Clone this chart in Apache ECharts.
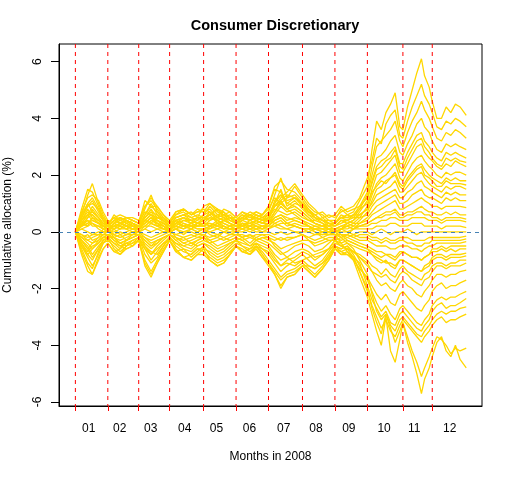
<!DOCTYPE html>
<html>
<head>
<meta charset="utf-8">
<script src="https://cdn.jsdelivr.net/npm/echarts@6/dist/echarts.min.js"></script>
<style>
  html, body { margin: 0; padding: 0; background: #fff; }
  #main { width: 512px; height: 480px; }
</style>
</head>
<body>
<div id="main"></div>
<script>
// trading-day index of each sample point (0 = first trading day of 2008)
var days = [0, 4, 8, 11, 15, 18,
  21, 25, 29, 33, 37,
  41, 45, 49, 53, 57,
  61, 65, 70, 75, 79,
  83, 87, 92, 96, 100,
  104, 108, 113, 117, 121,
  125, 129, 133, 137, 142,
  147, 151, 155, 160, 164,
  168, 172, 176, 180, 184,
  189, 192, 195, 198, 201, 204, 207, 210,
  212, 215, 218, 221, 224, 226, 229,
  231, 234, 237, 240, 243, 246, 249, 253];

// first trading day of each month (red dashed lines)
var monthStarts = [0, 21, 41, 61, 83, 104, 125, 147, 168, 189, 212, 231];
// position of the month labels
var monthLabelPos = [8.6, 28.7, 48.8, 70.8, 91.3, 112.7, 134.9, 155.7, 177.0, 199.8, 219.3, 242.3];
var monthLabels = ['01', '02', '03', '04', '05', '06', '07', '08', '09', '10', '11', '12'];
var yTicks = [-6, -4, -2, 0, 2, 4, 6];
var yMin = -6.14, yMax = 6.62;

// cumulative allocation (%) per stock, one value per sample day
var s01 = [0, 0.6, 1.3, 1.7, 1.0, 0.6,
  0.3, 0.5, 0.3, 0.4, 0.2,
  0.2, 0.8, 1.3, 0.7, 0.4,
  0.2, 0.5, 0.6, 0.4, 0.5,
  0.9, 1.0, 0.7, 0.6, 0.4,
  0.3, 0.5, 0.4, 0.6, 0.5,
  0.7, 1.3, 1.9, 1.2, 1.6,
  1.2, 0.9, 0.7, 0.6, 0.4,
  0.4, 0.8, 0.6, 0.7, 1.1,
  1.6, 2.9, 3.9, 3.6, 4.2, 4.5, 4.9, 3.7,
  3.6, 4.4, 5.0, 5.6, 6.1, 5.5, 5.1,
  4.6, 4.0, 4.0, 4.4, 4.2, 4.5, 4.4, 4.1];
var s02 = [0, -0.3, -0.6, -0.4, -0.2, 0.1,
  0, 0.3, 0.2, 0.1, 0.3,
  0.1, 0.4, 0.6, 0.3, 0.2,
  0, 0.3, 0.2, 0.1, 0.3,
  0.5, 0.6, 0.8, 0.5, 0.3,
  0.2, 0.4, 0.6, 0.4, 0.3,
  0.5, 0.9, 1.2, 1.4, 1.7,
  1.3, 1.0, 0.8, 0.5, 0.6,
  0.5, 0.7, 0.8, 0.9, 1.2,
  1.9, 2.5, 3.3, 3.1, 3.8, 4.1, 4.3, 3.4,
  3.3, 3.9, 4.4, 4.8, 5.2, 4.8, 4.5,
  4.2, 3.7, 3.6, 3.9, 3.8, 4.0, 3.9, 3.7];
var s03 = [0, 0.5, 0.9, 1.1, 0.7, 0.4,
  0.2, 0.6, 0.4, 0.5, 0.4,
  0.3, 1.1, 0.9, 0.9, 0.6,
  0.3, 0.7, 0.8, 0.6, 0.7,
  0.7, 0.8, 0.5, 0.8, 0.7,
  0.5, 0.7, 0.5, 0.7, 0.6,
  0.9, 1.5, 1.4, 1.0, 1.2,
  1.0, 0.8, 0.6, 0.7, 0.5,
  0.6, 0.9, 0.7, 0.8, 0.9,
  1.4, 2.3, 3.0, 3.2, 3.4, 3.6, 3.9, 3.2,
  3.0, 3.5, 3.9, 4.2, 4.6, 4.3, 4.0,
  3.7, 3.3, 3.2, 3.5, 3.4, 3.6, 3.5, 3.3];
var s04 = [0, 0.2, 0.5, 0.8, 0.5, 0.3,
  0.1, -0.2, -0.4, -0.3, -0.1,
  0, -0.5, -0.8, -0.5, -0.3,
  -0.1, 0.2, 0.4, 0.3, 0.2,
  0.3, 0.5, 0.4, 0.2, 0.1,
  0.1, 0.3, 0.2, 0.4, 0.3,
  0.4, 1.0, 1.5, 0.9, 1.1,
  0.8, 0.6, 0.5, 0.4, 0.3,
  0.3, 0.5, 0.6, 0.5, 0.8,
  1.3, 2.0, 2.6, 2.7, 2.9, 3.2, 3.4, 2.8,
  2.7, 3.1, 3.4, 3.8, 4.0, 3.7, 3.5,
  3.2, 2.9, 2.8, 3.1, 3.0, 3.1, 3.0, 2.9];
var s05 = [0, 0.4, 0.7, 0.6, 0.4, 0.2,
  0.1, 0.2, 0.1, 0.3, 0.2,
  0.1, 0.6, 1.0, 0.6, 0.3,
  0.1, 0.4, 0.5, 0.3, 0.4,
  0.6, 0.7, 0.4, 0.3, 0.2,
  0.2, 0.3, 0.1, 0.2, 0.1,
  0.3, 0.7, 1.1, 0.8, 0.9,
  0.7, 0.5, 0.3, 0.2, 0.3,
  0.2, 0.4, 0.3, 0.4, 0.7,
  1.1, 1.8, 2.3, 2.5, 2.6, 2.8, 3.0, 2.4,
  2.4, 2.8, 3.1, 3.4, 3.5, 3.2, 3.0,
  2.8, 2.6, 2.5, 2.8, 2.7, 2.8, 2.7, 2.6];
var s06 = [0, -0.4, -0.8, -1.0, -0.6, -0.3,
  -0.2, 0.1, 0.3, 0.2, 0.1,
  0.1, 0.3, 0.5, 0.4, 0.2,
  0.1, -0.2, -0.4, -0.5, -0.3,
  -0.2, 0.2, 0.3, 0.1, 0.2,
  0.1, 0.2, 0.3, 0.2, 0.2,
  0.3, 0.6, 0.9, 0.7, 0.8,
  0.6, 0.4, 0.3, 0.2, 0.2,
  0.2, 0.3, 0.4, 0.3, 0.5,
  0.9, 1.5, 2.0, 2.1, 2.3, 2.5, 2.7, 2.1,
  2.1, 2.4, 2.7, 3.0, 3.1, 2.8, 2.6,
  2.5, 2.3, 2.2, 2.4, 2.3, 2.5, 2.4, 2.3];
var s07 = [0, 0.3, 0.6, 0.9, 0.6, 0.4,
  0.2, 0.4, 0.5, 0.3, 0.4,
  0.3, 0.7, 0.6, 0.5, 0.5,
  0.2, 0.5, 0.6, 0.5, 0.6,
  0.5, 0.4, 0.6, 0.7, 0.5,
  0.4, 0.6, 0.4, 0.5, 0.4,
  0.5, 0.8, 0.7, 0.6, 0.7,
  0.5, 0.4, 0.4, 0.3, 0.2,
  0.3, 0.5, 0.5, 0.6, 0.6,
  0.8, 1.3, 1.7, 1.9, 2.0, 2.2, 2.4, 1.9,
  1.8, 2.1, 2.4, 2.6, 2.7, 2.5, 2.3,
  2.2, 2.0, 1.9, 2.1, 2.0, 2.1, 2.1, 2.0];
var s08 = [0, 0.7, 1.2, 1.3, 1.1, 0.7,
  0.4, 0.3, 0.2, 0.1, 0.2,
  0.2, 0.5, 0.8, 0.5, 0.4,
  0.2, 0.3, 0.2, 0.1, 0.2,
  0.3, 0.3, 0.2, 0.4, 0.3,
  0.2, 0.1, 0.2, 0.3, 0.2,
  0.2, 0.5, 0.6, 0.4, 0.5,
  0.4, 0.3, 0.2, 0.2, 0.1,
  0.1, 0.2, 0.3, 0.2, 0.4,
  0.7, 1.1, 1.5, 1.6, 1.8, 1.9, 2.1, 1.7,
  1.6, 1.9, 2.1, 2.3, 2.4, 2.2, 2.0,
  1.9, 1.8, 1.7, 1.9, 1.8, 1.9, 1.8, 1.8];
var s09 = [0, -0.2, -0.4, -0.6, -0.4, -0.2,
  -0.1, -0.3, -0.5, -0.4, -0.3,
  -0.2, -0.6, -1.0, -0.7, -0.4,
  -0.2, -0.4, -0.6, -0.7, -0.5,
  -0.4, -0.5, -0.7, -0.6, -0.4,
  -0.3, -0.2, -0.4, -0.2, -0.3,
  -0.4, -0.6, -0.8, -0.7, -0.5,
  -0.4, -0.5, -0.7, -0.6, -0.4,
  -0.2, 0.1, 0.3, 0.4, 0.6,
  0.8, 1.0, 1.3, 1.4, 1.5, 1.6, 1.8, 1.4,
  1.4, 1.6, 1.8, 2.0, 2.1, 1.9, 1.7,
  1.6, 1.5, 1.4, 1.6, 1.5, 1.6, 1.6, 1.5];
var s10 = [0, 0.2, 0.3, 0.4, 0.3, 0.1,
  0.1, 0.2, 0.3, 0.2, 0.1,
  0.1, 0.4, 0.3, 0.2, 0.1,
  0.1, 0.3, 0.4, 0.4, 0.3,
  0.2, 0.4, 0.5, 0.4, 0.3,
  0.2, 0.3, 0.3, 0.4, 0.5,
  0.6, 0.9, 1.0, 1.2, 1.3,
  1.0, 0.7, 0.5, 0.4, 0.3,
  0.2, 0.4, 0.4, 0.5, 0.5,
  0.6, 0.9, 1.1, 1.2, 1.3, 1.4, 1.5, 1.2,
  1.2, 1.4, 1.5, 1.7, 1.8, 1.6, 1.5,
  1.4, 1.3, 1.2, 1.4, 1.3, 1.4, 1.3, 1.3];
var s11 = [0, 0.4, 0.8, 0.5, 0.3, 0.2,
  0.1, -0.1, -0.2, -0.1, 0,
  0, 0.2, 0.4, 0.3, 0.1,
  0, 0.1, 0.2, 0.2, 0.1,
  0.1, 0.2, 0.1, 0.2, 0.1,
  0.1, 0.2, 0.1, 0.1, 0.2,
  0.2, 0.4, 0.5, 0.3, 0.4,
  0.3, 0.2, 0.1, 0.1, 0.1,
  0.1, 0.2, 0.2, 0.3, 0.3,
  0.5, 0.7, 0.9, 1.0, 1.1, 1.2, 1.3, 1.0,
  1.0, 1.1, 1.3, 1.4, 1.5, 1.3, 1.2,
  1.2, 1.1, 1.0, 1.2, 1.1, 1.2, 1.1, 1.1];
var s12 = [0, -0.5, -0.9, -1.2, -0.8, -0.4,
  -0.2, -0.4, -0.6, -0.3, -0.2,
  -0.1, -0.3, -0.5, -0.4, -0.2,
  -0.1, -0.3, -0.2, -0.4, -0.3,
  -0.2, -0.3, -0.5, -0.4, -0.3,
  -0.2, -0.3, -0.5, -0.3, -0.4,
  -0.5, -0.8, -1.0, -0.9, -0.7,
  -0.6, -0.7, -0.9, -0.8, -0.6,
  -0.3, -0.2, -0.1, 0.1, 0.3,
  0.4, 0.6, 0.7, 0.8, 0.9, 1.0, 1.1, 0.8,
  0.8, 0.9, 1.0, 1.1, 1.2, 1.1, 1.0,
  0.9, 0.9, 0.8, 0.9, 0.9, 0.9, 0.9, 0.85];
var s13 = [0, 0.3, 0.4, 0.2, 0.2, 0.1,
  0, 0.1, 0.2, 0.1, 0.2,
  0.1, 0.2, 0.2, 0.1, 0.1,
  0.1, 0.2, 0.1, 0.2, 0.1,
  0.1, 0.1, 0.2, 0.1, 0.1,
  0.1, 0.1, 0.2, 0.1, 0.1,
  0.1, 0.3, 0.4, 0.2, 0.3,
  0.2, 0.2, 0.1, 0.1, 0,
  0, 0.1, 0.1, 0.2, 0.2,
  0.3, 0.4, 0.5, 0.6, 0.7, 0.7, 0.8, 0.6,
  0.6, 0.7, 0.7, 0.8, 0.9, 0.8, 0.7,
  0.7, 0.6, 0.6, 0.7, 0.6, 0.7, 0.6, 0.6];
var s14 = [0, 0.1, 0.2, 0.3, 0.1, 0,
  0, 0.2, 0.3, 0.2, 0.1,
  0, 0.1, 0.3, 0.2, 0.1,
  0, 0.1, 0.3, 0.2, 0.2,
  0.2, 0.1, 0.3, 0.2, 0.1,
  0.1, 0.3, 0.2, 0.2, 0.1,
  0.2, 0.2, 0.3, 0.3, 0.2,
  0.1, 0.1, 0.2, 0.1, 0.1,
  0.1, 0.1, 0.2, 0.1, 0.2,
  0.2, 0.3, 0.3, 0.4, 0.4, 0.5, 0.5, 0.4,
  0.4, 0.4, 0.5, 0.5, 0.5, 0.5, 0.4,
  0.4, 0.4, 0.3, 0.4, 0.4, 0.4, 0.4, 0.35];
var s15 = [0, -0.1, -0.2, -0.1, -0.1, 0,
  0, 0, 0.1, 0.1, 0,
  0, -0.1, -0.2, -0.1, 0,
  0, 0.1, 0, 0.1, 0,
  0.1, 0, 0.1, 0, 0.1,
  0, 0.1, 0, 0.1, 0,
  0.1, 0.2, 0.1, 0.1, 0.2,
  0.1, 0, 0.1, 0, 0.1,
  0, 0.1, 0, 0.1, 0.1,
  0.1, 0.1, 0.2, 0.2, 0.2, 0.3, 0.3, 0.2,
  0.2, 0.2, 0.3, 0.3, 0.3, 0.2, 0.2,
  0.2, 0.2, 0.1, 0.2, 0.2, 0.2, 0.2, 0.15];
var s16 = [0, 0.1, 0, -0.1, 0, 0,
  0, -0.1, 0, -0.1, 0,
  0, 0.1, 0, 0.1, 0,
  0, -0.1, 0, 0, -0.1,
  0, 0, -0.1, 0, 0,
  0, 0, 0.1, 0, 0,
  0, -0.1, 0, -0.1, 0,
  0, 0, -0.1, 0, 0,
  0, 0, 0, -0.1, 0,
  0, -0.1, 0, 0.1, 0, -0.1, 0, 0,
  0, 0.1, 0, -0.1, 0, 0, 0,
  0, 0, 0, 0, 0, 0, 0, 0];
var s17 = [0, -0.2, -0.3, -0.2, -0.1, -0.1,
  0, -0.1, -0.2, -0.1, -0.1,
  0, -0.2, -0.3, -0.2, -0.1,
  0, -0.1, -0.2, -0.1, -0.2,
  -0.1, -0.2, -0.1, -0.2, -0.1,
  -0.1, -0.1, -0.2, -0.1, -0.1,
  -0.1, -0.2, -0.3, -0.2, -0.2,
  -0.1, -0.2, -0.1, -0.1, -0.1,
  -0.1, -0.1, -0.1, -0.2, -0.1,
  -0.1, -0.2, -0.2, -0.3, -0.2, -0.3, -0.3, -0.2,
  -0.2, -0.2, -0.3, -0.3, -0.3, -0.3, -0.2,
  -0.2, -0.2, -0.2, -0.2, -0.2, -0.2, -0.2, -0.15];
var s18 = [0, 0.2, 0.5, 0.6, 0.4, 0.2,
  0.1, 0.3, 0.4, 0.3, 0.2,
  0.1, 0.4, 0.6, 0.4, 0.3,
  0.1, 0.3, 0.5, 0.4, 0.3,
  0.4, 0.5, 0.4, 0.5, 0.4,
  0.3, 0.4, 0.3, 0.4, 0.3,
  0.3, 0.5, 0.6, 0.5, 0.4,
  0.3, 0.2, 0.1, 0, -0.1,
  -0.1, -0.2, -0.1, -0.2, -0.3,
  -0.3, -0.4, -0.5, -0.5, -0.5, -0.6, -0.6, -0.5,
  -0.5, -0.5, -0.6, -0.6, -0.7, -0.6, -0.5,
  -0.5, -0.4, -0.4, -0.4, -0.4, -0.4, -0.4, -0.35];
var s19 = [0, -0.4, -0.7, -0.5, -0.4, -0.2,
  -0.1, -0.2, -0.3, -0.2, -0.1,
  -0.1, -0.4, -0.6, -0.4, -0.2,
  -0.1, -0.2, -0.4, -0.3, -0.2,
  -0.2, -0.4, -0.3, -0.2, -0.3,
  -0.2, -0.3, -0.2, -0.3, -0.2,
  -0.3, -0.4, -0.6, -0.5, -0.4,
  -0.3, -0.3, -0.4, -0.3, -0.2,
  -0.2, -0.3, -0.2, -0.3, -0.4,
  -0.5, -0.6, -0.7, -0.7, -0.8, -0.8, -0.9, -0.7,
  -0.7, -0.8, -0.9, -0.9, -1.0, -0.9, -0.8,
  -0.7, -0.7, -0.6, -0.7, -0.6, -0.7, -0.6, -0.6];
var s20 = [0, 0.5, 0.9, 1.0, 0.8, 0.5,
  0.3, 0.5, 0.4, 0.5, 0.4,
  0.3, 0.9, 1.1, 0.8, 0.5,
  0.3, 0.6, 0.7, 0.5, 0.4,
  0.6, 0.9, 0.6, 0.5, 0.6,
  0.4, 0.6, 0.5, 0.5, 0.4,
  0.5, 1.1, 1.3, 1.0, 0.9,
  0.7, 0.5, 0.3, 0.2, 0.1,
  0, -0.2, -0.4, -0.5, -0.6,
  -0.7, -0.8, -0.9, -1.0, -1.1, -1.1, -1.2, -1.0,
  -1.0, -1.1, -1.2, -1.3, -1.4, -1.3, -1.2,
  -1.0, -0.9, -0.9, -1.0, -0.9, -0.9, -0.9, -0.85];
var s21 = [0, -0.6, -1.1, -1.3, -0.7, -0.4,
  -0.3, -0.5, -0.7, -0.5, -0.4,
  -0.2, -0.8, -1.1, -0.9, -0.5,
  -0.2, -0.5, -0.7, -0.8, -0.6,
  -0.6, -0.7, -0.9, -0.8, -0.6,
  -0.4, -0.5, -0.6, -0.4, -0.6,
  -0.8, -1.1, -1.4, -1.2, -1.0,
  -0.8, -1.0, -1.2, -1.0, -0.7,
  -0.4, -0.5, -0.6, -0.7, -0.9,
  -1.2, -1.4, -1.5, -1.6, -1.5, -1.7, -1.8, -1.5,
  -1.4, -1.5, -1.7, -1.8, -1.9, -1.7, -1.6,
  -1.4, -1.2, -1.2, -1.3, -1.2, -1.2, -1.2, -1.1];
var s22 = [0, 0.2, 0.3, 0.5, 0.3, 0.2,
  0.2, 0.4, 0.3, 0.4, 0.3,
  0.2, 0.5, 0.7, 0.6, 0.4,
  0.2, 0.4, 0.3, 0.2, 0.3,
  0.3, 0.2, 0.4, 0.3, 0.2,
  0.3, 0.5, 0.4, 0.6, 0.5,
  0.4, 0.3, 0.2, 0.1, 0,
  -0.1, -0.3, -0.5, -0.4, -0.3,
  -0.3, -0.5, -0.6, -0.7, -0.9,
  -1.1, -1.4, -1.7, -1.9, -1.8, -2.0, -2.1, -1.8,
  -1.7, -1.9, -2.0, -2.2, -2.3, -2.1, -1.9,
  -1.7, -1.5, -1.5, -1.6, -1.5, -1.5, -1.4, -1.35];
var s23 = [0, -0.3, -0.5, -0.8, -0.5, -0.3,
  -0.2, -0.4, -0.5, -0.6, -0.5,
  -0.3, -0.6, -0.8, -0.6, -0.4,
  -0.3, -0.6, -0.9, -1.0, -0.8,
  -0.8, -1.0, -1.2, -1.1, -0.8,
  -0.5, -0.7, -0.8, -0.6, -0.9,
  -1.1, -1.5, -2.0, -1.6, -1.5,
  -1.2, -1.4, -1.6, -1.3, -1.0,
  -0.6, -0.8, -0.7, -1.0, -1.3,
  -1.6, -1.9, -2.2, -2.4, -2.2, -2.5, -2.6, -2.2,
  -2.1, -2.3, -2.5, -2.7, -2.8, -2.6, -2.4,
  -2.1, -1.9, -1.8, -2.0, -1.9, -1.9, -1.8, -1.7];
var s24 = [0, 0.8, 1.5, 1.4, 0.9, 0.5,
  0.2, 0.1, -0.1, 0, 0.1,
  0.1, 0.3, 0.5, 0.3, 0.2,
  0, 0.1, -0.1, 0.1, 0,
  0.1, -0.1, -0.2, 0, -0.1,
  0, -0.2, -0.1, -0.3, -0.2,
  -0.2, -0.5, -0.7, -0.9, -1.1,
  -1.0, -0.9, -0.8, -0.7, -0.6,
  -0.5, -0.6, -0.5, -0.8, -1.2,
  -1.7, -2.1, -2.5, -2.8, -2.6, -2.9, -3.1, -2.7,
  -2.6, -2.8, -3.0, -3.2, -3.3, -3.1, -2.9,
  -2.6, -2.4, -2.3, -2.4, -2.3, -2.3, -2.2, -2.1];
var s25 = [0, -0.5, -0.8, -0.6, -0.3, -0.2,
  -0.2, -0.6, -0.8, -0.5, -0.4,
  -0.3, -1.0, -1.4, -1.0, -0.6,
  -0.3, -0.7, -0.6, -0.9, -0.7,
  -0.5, -0.8, -1.0, -0.9, -0.7,
  -0.5, -0.6, -0.8, -0.5, -0.7,
  -1.0, -1.3, -1.6, -1.4, -1.3,
  -1.1, -1.3, -1.5, -1.2, -0.9,
  -0.5, -0.7, -0.6, -0.9, -1.1,
  -1.9, -2.4, -2.7, -3.0, -2.8, -3.2, -3.3, -2.9,
  -2.8, -3.0, -3.2, -3.4, -3.5, -3.3, -3.1,
  -2.8, -2.6, -2.5, -2.7, -2.6, -2.6, -2.5, -2.35];
var s26 = [0, 0.3, 0.6, 0.7, 0.5, 0.3,
  0.2, 0.4, 0.5, 0.4, 0.3,
  0.2, 0.6, 0.9, 0.7, 0.5,
  0.3, 0.6, 0.8, 0.6, 0.7,
  0.8, 0.7, 0.5, 0.6, 0.7,
  0.5, 0.4, 0.6, 0.5, 0.6,
  0.8, 1.2, 1.0, 0.8, 0.6,
  0.4, 0.2, 0, -0.2, -0.3,
  -0.3, -0.5, -0.4, -0.6, -1.0,
  -1.5, -2.2, -2.8, -3.1, -2.9, -3.3, -3.5, -3.1,
  -3.0, -3.2, -3.4, -3.6, -3.7, -3.5, -3.3,
  -3.1, -2.9, -2.8, -2.9, -2.8, -2.8, -2.7, -2.65];
var s27 = [0, -0.7, -1.2, -1.5, -0.9, -0.6,
  -0.4, -0.7, -0.6, -0.4, -0.5,
  -0.3, -1.2, -1.6, -1.1, -0.7,
  -0.3, -0.6, -0.9, -0.8, -0.6,
  -0.7, -0.9, -1.1, -1.0, -0.8,
  -0.5, -0.7, -0.6, -0.5, -0.8,
  -1.1, -1.4, -1.7, -1.5, -1.4,
  -1.2, -1.2, -1.3, -1.1, -0.9,
  -0.6, -0.7, -0.8, -0.9, -1.4,
  -2.1, -2.6, -3.0, -3.4, -3.1, -3.5, -3.7, -3.3,
  -3.1, -3.3, -3.5, -3.7, -3.9, -3.7, -3.5,
  -3.3, -3.1, -3.0, -3.2, -3.1, -3.1, -3.0, -2.9];
var s28 = [0, 0.6, 1.0, 1.2, 0.8, 0.4,
  0.3, 0.5, 0.6, 0.5, 0.5,
  0.4, 0.9, 1.2, 0.9, 0.6,
  0.4, 0.7, 0.8, 0.6, 0.8,
  0.7, 1.0, 0.8, 0.6, 0.5,
  0.5, 0.7, 0.6, 0.7, 0.6,
  0.9, 1.6, 1.8, 1.5, 1.4,
  1.1, 0.8, 0.5, 0.3, 0.1,
  -0.1, -0.4, -0.7, -0.9, -1.4,
  -2.0, -2.7, -3.2, -3.6, -2.9, -3.4, -3.9, -3.5,
  -3.2, -3.7, -4.2, -4.6, -5.1, -4.8, -4.4,
  -4.1, -3.7, -3.8, -4.0, -4.3, -4.1, -4.2, -4.1];
var s29 = [0, -0.8, -1.4, -1.5, -1.0, -0.6,
  -0.4, -0.7, -0.8, -0.6, -0.5,
  -0.3, -1.1, -1.5, -1.1, -0.7,
  -0.3, -0.7, -0.9, -1.0, -0.8,
  -0.6, -1.0, -1.2, -1.1, -0.8,
  -0.5, -0.7, -0.8, -0.6, -0.9,
  -1.2, -1.5, -1.9, -1.6, -1.5,
  -1.2, -1.4, -1.6, -1.3, -1.0,
  -0.6, -0.8, -0.8, -1.0, -1.6,
  -2.3, -2.9, -3.5, -4.0, -3.0, -4.2, -4.6, -3.8,
  -3.2, -3.9, -4.4, -5.0, -5.7, -5.2, -4.8,
  -4.4, -3.9, -3.7, -4.2, -4.4, -4.0, -4.5, -4.8];
var s30 = [0, 0.3, 0.2, 0.5, 0.4, 0.3,
  0.3, 0.1, 0.2, 0.4, 0.3,
  0.2, 0.3, 0.5, 0.2, 0.3,
  0.2, 0.4, 0.2, 0.3, 0.5,
  0.4, 0.6, 0.3, 0.4, 0.5,
  0.3, 0.2, 0.4, 0.3, 0.4,
  0.4, 0.7, 1.0, 0.8, 1.0,
  0.9, 0.6, 0.4, 0.5, 0.3,
  0.3, 0.5, 0.4, 0.6, 0.8,
  1.0, 1.4, 1.6, 1.8, 1.7, 1.9, 2.0, 1.6,
  1.5, 1.8, 2.0, 2.2, 2.3, 2.0, 1.9,
  1.8, 1.6, 1.6, 1.8, 1.7, 1.7, 1.7, 1.65];
var s31 = [0, -0.2, -0.1, -0.3, -0.2, -0.1,
  -0.1, -0.2, -0.1, -0.3, -0.2,
  -0.1, -0.2, -0.4, -0.3, -0.2,
  -0.1, -0.2, -0.3, -0.2, -0.1,
  -0.1, -0.3, -0.2, -0.3, -0.2,
  -0.1, -0.2, -0.1, -0.2, -0.1,
  -0.2, -0.3, -0.2, -0.3, -0.2,
  -0.1, -0.2, -0.3, -0.2, -0.1,
  0, 0.1, 0.2, 0.1, 0.2,
  0.3, 0.4, 0.5, 0.5, 0.6, 0.6, 0.7, 0.5,
  0.5, 0.6, 0.6, 0.7, 0.7, 0.6, 0.6,
  0.5, 0.5, 0.4, 0.5, 0.5, 0.5, 0.5, 0.45];
var s32 = [0, 0.2, 0.4, 0.3, 0.2, 0.1,
  0.1, 0.2, 0.1, 0.2, 0.1,
  0.1, 0.2, 0.4, 0.3, 0.2,
  0.1, 0.2, 0.1, 0.3, 0.2,
  0.2, 0.3, 0.2, 0.1, 0.2,
  0.1, 0.2, 0.1, 0.2, 0.1,
  0.2, 0.4, 0.5, 0.3, 0.2,
  0.1, 0.1, 0, -0.1, 0,
  -0.1, -0.1, -0.2, -0.1, -0.2,
  -0.2, -0.3, -0.3, -0.4, -0.3, -0.4, -0.4, -0.3,
  -0.3, -0.4, -0.4, -0.5, -0.5, -0.4, -0.4,
  -0.3, -0.3, -0.3, -0.3, -0.3, -0.3, -0.3, -0.25];
var s33 = [0, -0.1, -0.3, -0.4, -0.3, -0.1,
  -0.1, -0.3, -0.4, -0.3, -0.2,
  -0.1, -0.3, -0.5, -0.3, -0.2,
  -0.1, -0.3, -0.5, -0.6, -0.4,
  -0.3, -0.4, -0.6, -0.5, -0.4,
  -0.3, -0.4, -0.5, -0.4, -0.5,
  -0.6, -0.9, -1.2, -1.0, -0.9,
  -0.7, -0.8, -1.0, -0.8, -0.6,
  -0.3, -0.4, -0.3, -0.4, -0.5,
  -0.6, -0.7, -0.8, -0.9, -0.8, -0.9, -1.0, -0.8,
  -0.7, -0.8, -0.9, -0.9, -1.0, -0.9, -0.8,
  -0.6, -0.6, -0.5, -0.6, -0.5, -0.5, -0.5, -0.5];
var s34 = [0, 0.4, 0.6, 0.4, 0.3, 0.2,
  0.1, 0.3, 0.5, 0.4, 0.3,
  0.2, 0.4, 0.3, 0.5, 0.4,
  0.2, 0.5, 0.6, 0.7, 0.5,
  0.5, 0.6, 0.8, 0.7, 0.5,
  0.4, 0.5, 0.7, 0.6, 0.5,
  0.6, 0.9, 1.1, 1.3, 1.2,
  1.0, 0.7, 0.6, 0.4, 0.2,
  0.1, -0.1, -0.3, -0.4, -0.5,
  -0.6, -0.8, -1.0, -1.1, -1.0, -1.2, -1.3, -1.0,
  -1.0, -1.1, -1.2, -1.3, -1.4, -1.2, -1.1,
  -0.9, -0.8, -0.8, -0.9, -0.8, -0.8, -0.8, -0.75];
var s35 = [0, -0.3, -0.6, -0.9, -0.6, -0.3,
  -0.2, -0.2, -0.4, -0.5, -0.3,
  -0.2, -0.5, -0.7, -0.8, -0.5,
  -0.2, -0.4, -0.5, -0.4, -0.5,
  -0.4, -0.6, -0.8, -0.7, -0.5,
  -0.3, -0.5, -0.7, -0.5, -0.6,
  -0.7, -1.0, -1.2, -1.1, -1.2,
  -1.0, -1.2, -1.3, -1.1, -0.8,
  -0.5, -0.6, -0.5, -0.7, -0.8,
  -1.0, -1.2, -1.3, -1.5, -1.3, -1.5, -1.6, -1.3,
  -1.2, -1.4, -1.5, -1.6, -1.7, -1.5, -1.4,
  -1.2, -1.1, -1.1, -1.2, -1.1, -1.1, -1.0, -1.0];
var s36 = [0, 0.5, 1.0, 0.7, 0.5, 0.3,
  0.2, 0.4, 0.3, 0.2, 0.3,
  0.2, 0.5, 0.7, 0.4, 0.3,
  0.2, 0.4, 0.5, 0.4, 0.3,
  0.4, 0.7, 0.5, 0.4, 0.5,
  0.3, 0.5, 0.4, 0.5, 0.4,
  0.6, 1.0, 1.3, 1.1, 1.2,
  0.9, 0.7, 0.6, 0.4, 0.4,
  0.3, 0.6, 0.5, 0.6, 0.9,
  1.2, 1.7, 2.2, 2.3, 2.5, 2.6, 2.9, 2.3,
  2.2, 2.6, 2.9, 3.2, 3.3, 3.0, 2.8,
  2.6, 2.4, 2.3, 2.6, 2.5, 2.6, 2.5, 2.45];

var allLines = [s01, s02, s03, s04, s05, s06, s07, s08, s09, s10,
  s11, s12, s13, s14, s15, s16, s17, s18, s19, s20,
  s21, s22, s23, s24, s25, s26, s27, s28, s29, s30,
  s31, s32, s33, s34, s35, s36];

var myChart = echarts.init(document.getElementById('main'));

var series = allLines.map(function (vals, k) {
  return {
    name: 'stock' + (k + 1),
    type: 'line',
    data: days.map(function (d, i) { return [d, vals[i]]; }),
    showSymbol: false,
    symbol: 'none',
    lineStyle: { color: '#FFD700', width: 1.3 },
    silent: true,
    z: 2
  };
});

// red dashed month separators, drawn on top of the stock lines
monthStarts.forEach(function (d) {
  series.push({
    type: 'line',
    data: [[d, yMax], [d, yMin]],
    symbol: 'none',
    silent: true,
    z: 5,
    lineStyle: { color: '#FF0000', type: [4, 4], width: 1 }
  });
});

// steel blue dashed zero line
series.push({
  type: 'line',
  data: [[0, 0]],
  symbol: 'none',
  lineStyle: { width: 0 },
  z: 6,
  silent: true,
  markLine: {
    symbol: 'none',
    silent: true,
    animation: false,
    label: { show: false },
    data: [{ yAxis: 0, lineStyle: { color: '#4682B4', type: [4, 4], width: 1.2 } }]
  }
});

var option = {
  animation: false,
  backgroundColor: '#fff',
  textStyle: { fontFamily: 'Liberation Sans, Arial, sans-serif' },
  title: {
    text: 'Consumer Discretionary',
    left: 270,
    textAlign: 'center',
    top: 13,
    textStyle: { fontSize: 14.5, fontWeight: 'bold', color: '#000', fontFamily: 'Liberation Sans, Arial, sans-serif' }
  },
  grid: {
    left: 59, right: 30, top: 44, bottom: 74,
    containLabel: false,
    outerBoundsMode: 'none',
    show: true, borderColor: '#000', borderWidth: 1, backgroundColor: 'transparent'
  },
  xAxis: {
    type: 'value',
    min: -10.6,
    max: 263.2,
    name: 'Months in 2008',
    nameLocation: 'middle',
    nameGap: 45,
    nameTextStyle: { fontSize: 12, color: '#000' },
    axisLine: { show: true, onZero: false, lineStyle: { color: '#000' } },
    splitLine: { show: false },
    axisTick: {
      show: true,
      customValues: monthStarts,
      length: 5,
      lineStyle: { color: '#FF0000', width: 1 }
    },
    axisLabel: {
      customValues: monthLabelPos,
      margin: 17,
      fontSize: 12,
      color: '#000',
      formatter: function (v) {
        var i = monthLabelPos.indexOf(v);
        return i >= 0 ? monthLabels[i] : '';
      }
    }
  },
  yAxis: {
    type: 'value',
    min: yMin,
    max: yMax,
    name: 'Cumulative allocation (%)',
    nameLocation: 'middle',
    nameGap: 45,
    nameTextStyle: { fontSize: 12, color: '#000' },
    axisLine: { show: true, onZero: false, lineStyle: { color: '#000' } },
    splitLine: { show: false },
    axisTick: {
      show: true,
      customValues: yTicks,
      length: 8,
      lineStyle: { color: '#000', width: 1 }
    },
    axisLabel: {
      customValues: yTicks,
      rotate: 90,
      margin: 15,
      fontSize: 12,
      color: '#000'
    }
  },
  series: series
};

myChart.setOption(option);
</script>
</body>
</html>
